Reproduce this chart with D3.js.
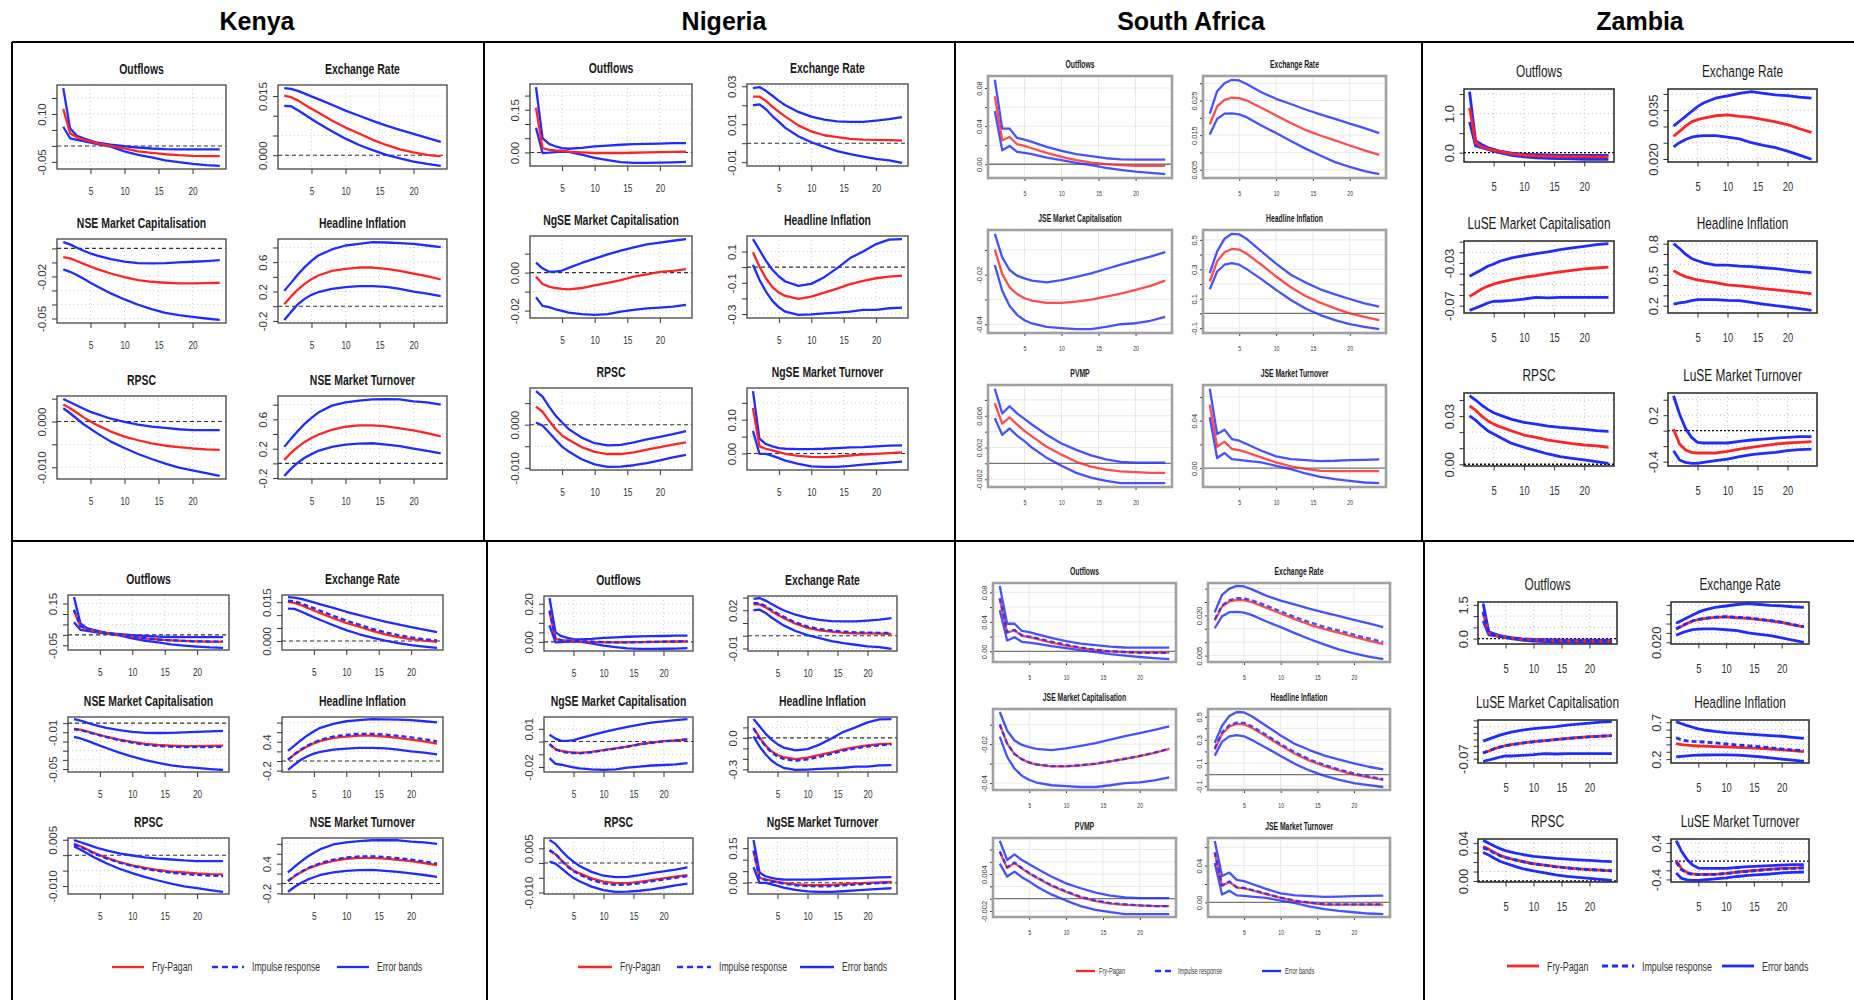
<html>
<head>
  <meta charset="utf-8">
  <title>Impulse responses by country</title>
  <script src="https://d3js.org/d3.v7.min.js"></script>
  <style>
    body { margin: 0; background: #fff; }
    text { font-family: 'Liberation Sans', Arial, sans-serif; }
  </style>
</head>
<body>
  <svg id="irfChart" width="1854" height="1000"></svg>
  <script>
    // ---- data ----
    const H = [1, 2, 3, 4, 5, 6, 8, 10, 12, 14, 16, 18, 20, 22, 24];
    const xTickVals = [5, 10, 15, 20];
    const countries = ["Kenya", "Nigeria", "South Africa", "Zambia"];
    const legendLabels = ["Fry-Pagan", "Impulse response", "Error bands"];

    const kenyaTitles = ["Outflows", "Exchange Rate", "NSE Market Capitalisation", "Headline Inflation", "RPSC", "NSE Market Turnover"];
    const nigeriaTitles = ["Outflows", "Exchange Rate", "NgSE Market Capitalisation", "Headline Inflation", "RPSC", "NgSE Market Turnover"];
    const saTitles = ["Outflows", "Exchange Rate", "JSE Market Capitalisation", "Headline Inflation", "PVMP", "JSE Market Turnover"];
    const zambiaTitles = ["Outflows", "Exchange Rate", "LuSE Market Capitalisation", "Headline Inflation", "RPSC", "LuSE Market Turnover"];

    // y tick labels that are printed (upper row of panels / lower row of panels)
    const kenyaLabelsTop = [[0.10, -0.05], [0.015, 0.000], [-0.02, -0.05], [0.6, 0.2, -0.2], [0.000, -0.010], [0.6, 0.2, -0.2]];
    const kenyaLabelsLow = [[0.15, -0.05], [0.015, 0.000], [-0.01, -0.05], [0.4, -0.2], [0.005, -0.010], [0.4, -0.2]];
    const nigeriaLabelsTop = [[0.15, 0.00], [0.03, 0.01, -0.01], [0.00, -0.02], [0.1, -0.1, -0.3], [0.000, -0.010], [0.10, 0.00]];
    const nigeriaLabelsLow = [[0.20, 0.00], [0.02, -0.01], [0.01, -0.02], [0.0, -0.3], [0.005, -0.010], [0.15, 0.00]];
    const saLabelsTop = [[0.08, 0.04, 0.00], [0.025, 0.015, 0.005], [-0.02, -0.04], [0.5, 0.3, 0.1, -0.1], [0.006, 0.002, -0.002], [0.04, 0.00]];
    const saLabelsLow = [[0.08, 0.04, 0.00], [0.020, 0.005], [-0.02, -0.04], [0.5, 0.3, 0.1, -0.1], [0.004, -0.002], [0.04, 0.00]];
    const zambiaLabelsTop = [[1.0, 0.0], [0.035, 0.020], [-0.03, -0.07], [0.8, 0.5, 0.2], [0.03, 0.00], [0.2, -0.4]];
    const zambiaLabelsLow = [[1.5, 0.0], [0.020], [-0.07], [0.7, 0.2], [0.04, 0.00], [0.4, -0.4]];

    // upper error band, response (red), lower error band, impulse response (dashed, lower row)
    const kenyaUpper = [
      [0.181,0.055,0.032,0.024,0.017,0.010,0.004,-0.001,-0.005,-0.008,-0.010,-0.011,-0.011,-0.011,-0.011],
      [0.0170,0.0168,0.0163,0.0156,0.0149,0.0142,0.0128,0.0113,0.0100,0.0087,0.0075,0.0064,0.0054,0.0044,0.0034],
      [0.0045,0.0029,0.0005,-0.0017,-0.0036,-0.0052,-0.0076,-0.0095,-0.0105,-0.0107,-0.0105,-0.0100,-0.0095,-0.0090,-0.0083],
      [0.209,0.318,0.432,0.532,0.618,0.691,0.773,0.827,0.850,0.873,0.868,0.859,0.850,0.827,0.805],
      [0.0049,0.0042,0.0035,0.0028,0.0021,0.0016,0.0006,-0.0001,-0.0007,-0.0011,-0.0014,-0.0017,-0.0019,-0.0019,-0.0019],
      [0.225,0.337,0.440,0.539,0.620,0.692,0.787,0.831,0.854,0.872,0.876,0.872,0.845,0.831,0.800]
    ];
    const kenyaMid = [
      [0.116,0.040,0.027,0.020,0.014,0.008,0.000,-0.008,-0.017,-0.022,-0.026,-0.029,-0.031,-0.032,-0.032],
      [0.0151,0.0147,0.0139,0.0128,0.0118,0.0108,0.0088,0.0070,0.0055,0.0039,0.0026,0.0015,0.0007,0.0001,-0.0003],
      [-0.0062,-0.0071,-0.0090,-0.0110,-0.0129,-0.0148,-0.0179,-0.0205,-0.0226,-0.0238,-0.0245,-0.0250,-0.0250,-0.0248,-0.0245],
      [0.027,0.132,0.227,0.305,0.368,0.418,0.482,0.509,0.527,0.527,0.509,0.482,0.445,0.409,0.364],
      [0.0037,0.0029,0.0019,0.0009,0.0000,-0.0008,-0.0022,-0.0033,-0.0041,-0.0048,-0.0053,-0.0056,-0.0059,-0.0061,-0.0062],
      [0.045,0.144,0.225,0.292,0.346,0.391,0.458,0.499,0.517,0.517,0.503,0.476,0.449,0.413,0.369]
    ];
    const kenyaLower = [
      [0.060,0.024,0.019,0.015,0.010,0.006,-0.002,-0.017,-0.028,-0.036,-0.045,-0.051,-0.056,-0.060,-0.0625],
      [0.0125,0.0124,0.0114,0.0103,0.0092,0.0081,0.0061,0.0042,0.0026,0.0013,0.0001,-0.0008,-0.0016,-0.0022,-0.0027],
      [-0.0150,-0.0167,-0.0190,-0.0217,-0.0245,-0.0271,-0.0321,-0.0364,-0.0402,-0.0433,-0.0460,-0.0476,-0.0488,-0.0500,-0.0510],
      [-0.186,-0.077,0.027,0.100,0.155,0.191,0.236,0.259,0.273,0.273,0.264,0.236,0.200,0.173,0.136],
      [0.0029,0.0018,0.0006,-0.0006,-0.0016,-0.0026,-0.0044,-0.0058,-0.0071,-0.0082,-0.0092,-0.0101,-0.0107,-0.0113,-0.0119],
      [-0.171,-0.072,0.009,0.076,0.126,0.171,0.225,0.256,0.270,0.274,0.256,0.234,0.202,0.171,0.135]
    ];
    const kenyaIR = [
      [0.120,0.042,0.028,0.021,0.015,0.009,0.001,-0.007,-0.016,-0.022,-0.026,-0.029,-0.031,-0.032,-0.032],
      [0.0156,0.0153,0.0146,0.0136,0.0127,0.0117,0.0097,0.0079,0.0063,0.0047,0.0034,0.0023,0.0014,0.0007,0.0002],
      [-0.0068,-0.0076,-0.0094,-0.0113,-0.0132,-0.0152,-0.0185,-0.0213,-0.0235,-0.0248,-0.0256,-0.0261,-0.0262,-0.0260,-0.0257],
      [0.030,0.140,0.240,0.320,0.385,0.440,0.510,0.545,0.565,0.565,0.550,0.525,0.490,0.455,0.410],
      [0.0035,0.0027,0.0017,0.0007,-0.0002,-0.0010,-0.0024,-0.0035,-0.0044,-0.0051,-0.0057,-0.0061,-0.0064,-0.0066,-0.0068],
      [0.050,0.150,0.235,0.305,0.360,0.410,0.480,0.525,0.545,0.548,0.535,0.510,0.480,0.445,0.400]
    ];

    const nigeriaUpper = [
      [0.230,0.050,0.030,0.021,0.015,0.013,0.016,0.021,0.024,0.027,0.029,0.030,0.031,0.033,0.033],
      [0.0290,0.0296,0.0276,0.0250,0.0223,0.0200,0.0165,0.0140,0.0124,0.0115,0.0112,0.0112,0.0119,0.0127,0.0138],
      [0.0053,0.0023,0.0005,0.0005,0.0011,0.0025,0.0051,0.0074,0.0096,0.0116,0.0133,0.0149,0.0158,0.0168,0.0177],
      [0.180,0.111,0.041,-0.017,-0.060,-0.092,-0.120,-0.107,-0.064,-0.006,0.058,0.100,0.148,0.176,0.180],
      [0.0078,0.0065,0.0042,0.0021,0.0005,-0.0010,-0.0030,-0.0043,-0.0048,-0.0047,-0.0041,-0.0034,-0.0028,-0.0022,-0.0015],
      [0.185,0.044,0.028,0.021,0.016,0.014,0.013,0.013,0.014,0.016,0.018,0.019,0.021,0.023,0.024]
    ];
    const nigeriaMid = [
      [0.158,0.015,0.009,0.007,0.006,0.003,0.000,-0.002,-0.002,-0.002,-0.001,0.000,0.001,0.002,0.003],
      [0.0246,0.0246,0.0223,0.0193,0.0165,0.0140,0.0094,0.0062,0.0042,0.0032,0.0023,0.0019,0.0018,0.0016,0.0014],
      [-0.0021,-0.0060,-0.0074,-0.0081,-0.0086,-0.0088,-0.0081,-0.0067,-0.0054,-0.0039,-0.0021,-0.0009,0.0004,0.0009,0.0018],
      [0.096,0.004,-0.071,-0.128,-0.163,-0.184,-0.203,-0.188,-0.163,-0.137,-0.109,-0.088,-0.071,-0.060,-0.054],
      [0.0042,0.0030,0.0009,-0.0010,-0.0025,-0.0035,-0.0052,-0.0063,-0.0068,-0.0068,-0.0064,-0.0058,-0.0052,-0.0046,-0.0041],
      [0.135,0.021,0.014,0.009,0.004,-0.001,-0.007,-0.010,-0.011,-0.009,-0.006,-0.003,-0.001,0.001,0.003]
    ];
    const nigeriaLower = [
      [0.087,-0.002,-0.001,0.001,0.003,0.002,-0.008,-0.019,-0.027,-0.034,-0.037,-0.037,-0.036,-0.035,-0.033],
      [0.0200,0.0205,0.0179,0.0143,0.0112,0.0081,0.0037,0.0005,-0.0019,-0.0042,-0.0058,-0.0071,-0.0083,-0.0090,-0.0104],
      [-0.0130,-0.0175,-0.0182,-0.0193,-0.0202,-0.0211,-0.0219,-0.0223,-0.0219,-0.0205,-0.0196,-0.0188,-0.0184,-0.0179,-0.0170],
      [0.015,-0.081,-0.156,-0.216,-0.257,-0.285,-0.306,-0.302,-0.296,-0.291,-0.285,-0.274,-0.274,-0.263,-0.259],
      [0.0005,-0.0002,-0.0018,-0.0035,-0.0051,-0.0062,-0.0080,-0.0092,-0.0098,-0.0097,-0.0094,-0.0089,-0.0083,-0.0076,-0.0070],
      [0.067,-0.001,-0.001,-0.007,-0.014,-0.021,-0.031,-0.038,-0.040,-0.040,-0.037,-0.033,-0.030,-0.027,-0.024]
    ];
    const nigeriaIR = [
      [0.165,0.016,0.009,0.007,0.006,0.004,0.001,-0.001,-0.002,-0.002,-0.001,0.000,0.001,0.002,0.004],
      [0.0255,0.0255,0.0233,0.0203,0.0175,0.0150,0.0104,0.0072,0.0052,0.0041,0.0032,0.0027,0.0025,0.0023,0.0022],
      [-0.0020,-0.0062,-0.0078,-0.0086,-0.0091,-0.0092,-0.0084,-0.0069,-0.0055,-0.0039,-0.0022,-0.0010,0.0002,0.0008,0.0017],
      [0.090,-0.005,-0.080,-0.140,-0.178,-0.200,-0.218,-0.205,-0.180,-0.152,-0.122,-0.100,-0.082,-0.070,-0.062],
      [0.0044,0.0031,0.0008,-0.0012,-0.0028,-0.0039,-0.0057,-0.0069,-0.0074,-0.0073,-0.0069,-0.0062,-0.0056,-0.0050,-0.0044],
      [0.140,0.020,0.012,0.006,0.001,-0.004,-0.011,-0.015,-0.016,-0.015,-0.012,-0.008,-0.005,-0.002,0.001]
    ];

    const saUpper = [
      [0.0887,0.0374,0.0374,0.0276,0.0259,0.0234,0.0182,0.0140,0.0105,0.0084,0.0063,0.0052,0.0049,0.0049,0.0049],
      [0.0212,0.0277,0.0300,0.0310,0.0308,0.0298,0.0274,0.0255,0.0240,0.0224,0.0210,0.0197,0.0183,0.0170,0.0156],
      [-0.0035,-0.0130,-0.0181,-0.0204,-0.0215,-0.0224,-0.0231,-0.0222,-0.0209,-0.0195,-0.0177,-0.0159,-0.0143,-0.0127,-0.0109],
      [0.274,0.422,0.507,0.541,0.537,0.507,0.422,0.338,0.263,0.210,0.164,0.130,0.098,0.068,0.046],
      [0.0094,0.0063,0.0072,0.0063,0.0056,0.0049,0.0036,0.0025,0.0017,0.0010,0.0005,0.0002,0.0001,0.0001,0.0001],
      [0.0668,0.0287,0.0324,0.0245,0.0231,0.0203,0.0146,0.0099,0.0076,0.0068,0.0059,0.0062,0.0068,0.0070,0.0073]
    ];
    const saMid = [
      [0.0713,0.0252,0.0286,0.0210,0.0192,0.0168,0.0119,0.0077,0.0042,0.0017,0.0000,-0.0010,-0.0017,-0.0017,-0.0017],
      [0.0181,0.0233,0.0252,0.0258,0.0257,0.0250,0.0229,0.0207,0.0185,0.0165,0.0149,0.0135,0.0120,0.0106,0.0093],
      [-0.0099,-0.0197,-0.0251,-0.0278,-0.0295,-0.0305,-0.0314,-0.0314,-0.0309,-0.0301,-0.0289,-0.0276,-0.0261,-0.0245,-0.0224],
      [0.217,0.354,0.416,0.438,0.434,0.406,0.331,0.251,0.178,0.119,0.073,0.034,0.000,-0.023,-0.046],
      [0.0076,0.0050,0.0058,0.0049,0.0041,0.0034,0.0021,0.0011,0.0002,-0.0004,-0.0008,-0.0010,-0.0011,-0.0012,-0.0012],
      [0.0535,0.0180,0.0223,0.0161,0.0152,0.0132,0.0090,0.0048,0.0014,-0.0006,-0.0023,-0.0025,-0.0025,-0.0025,-0.0025]
    ];
    const saLower = [
      [0.0559,0.0147,0.0192,0.0129,0.0119,0.0105,0.0070,0.0042,0.0014,-0.0010,-0.0038,-0.0059,-0.0077,-0.0091,-0.0105],
      [0.0152,0.0197,0.0212,0.0213,0.0210,0.0202,0.0178,0.0156,0.0133,0.0111,0.0091,0.0072,0.0058,0.0046,0.0037],
      [-0.0161,-0.0265,-0.0326,-0.0362,-0.0384,-0.0397,-0.0411,-0.0416,-0.0420,-0.0420,-0.0411,-0.0400,-0.0396,-0.0386,-0.0370],
      [0.164,0.285,0.331,0.342,0.331,0.301,0.233,0.160,0.091,0.034,-0.011,-0.046,-0.073,-0.091,-0.107],
      [0.0057,0.0036,0.0044,0.0035,0.0028,0.0020,0.0007,-0.0003,-0.0012,-0.0018,-0.0022,-0.0025,-0.0025,-0.0025,-0.0025],
      [0.0428,0.0085,0.0127,0.0076,0.0070,0.0062,0.0048,0.0020,-0.0008,-0.0045,-0.0073,-0.0093,-0.0107,-0.0121,-0.0127]
    ];
    const saIR = [
      [0.0720,0.0260,0.0290,0.0220,0.0200,0.0180,0.0130,0.0090,0.0050,0.0020,0.0000,-0.0010,-0.0020,-0.0020,-0.0020],
      [0.0185,0.0237,0.0257,0.0264,0.0264,0.0257,0.0237,0.0215,0.0193,0.0174,0.0157,0.0143,0.0128,0.0114,0.0101],
      [-0.0099,-0.0197,-0.0250,-0.0277,-0.0294,-0.0304,-0.0313,-0.0313,-0.0308,-0.0300,-0.0288,-0.0275,-0.0260,-0.0244,-0.0223],
      [0.225,0.365,0.428,0.450,0.447,0.420,0.345,0.263,0.190,0.130,0.083,0.044,0.010,-0.015,-0.040],
      [0.0077,0.0051,0.0059,0.0050,0.0042,0.0035,0.0022,0.0012,0.0003,-0.0003,-0.0007,-0.0009,-0.0011,-0.0012,-0.0012],
      [0.0545,0.0185,0.0228,0.0166,0.0157,0.0137,0.0095,0.0052,0.0018,-0.0002,-0.0020,-0.0022,-0.0022,-0.0022,-0.0022]
    ];

    const zambiaUpper = [
      [1.56,0.30,0.21,0.13,0.085,0.04,-0.01,-0.04,-0.05,-0.06,-0.07,-0.07,-0.07,-0.07,-0.07],
      [0.0301,0.0316,0.0331,0.0346,0.0361,0.0372,0.0387,0.0394,0.0402,0.0407,0.0402,0.0397,0.0395,0.0390,0.0387],
      [-0.0425,-0.0394,-0.0363,-0.0331,-0.0309,-0.0284,-0.0253,-0.0231,-0.0213,-0.0197,-0.0175,-0.0159,-0.0144,-0.0128,-0.0119],
      [0.800,0.753,0.698,0.657,0.635,0.615,0.593,0.593,0.583,0.577,0.567,0.558,0.545,0.529,0.519],
      [0.0427,0.0400,0.0369,0.0342,0.0321,0.0306,0.0280,0.0261,0.0250,0.0238,0.0230,0.0224,0.0217,0.0209,0.0205],
      [0.452,0.215,0.030,-0.086,-0.151,-0.159,-0.159,-0.159,-0.138,-0.120,-0.108,-0.095,-0.086,-0.077,-0.077]
    ];
    const zambiaMid = [
      [1.15,0.26,0.15,0.10,0.06,0.03,-0.03,-0.06,-0.08,-0.09,-0.10,-0.10,-0.10,-0.11,-0.11],
      [0.0270,0.0285,0.0301,0.0314,0.0321,0.0326,0.0333,0.0336,0.0331,0.0328,0.0321,0.0314,0.0306,0.0293,0.0282],
      [-0.0613,-0.0581,-0.0544,-0.0519,-0.0497,-0.0481,-0.0456,-0.0434,-0.0419,-0.0400,-0.0384,-0.0369,-0.0356,-0.0347,-0.0338],
      [0.539,0.507,0.481,0.465,0.449,0.440,0.424,0.401,0.392,0.379,0.366,0.353,0.341,0.328,0.315],
      [0.0364,0.0337,0.0300,0.0271,0.0250,0.0234,0.0207,0.0182,0.0168,0.0151,0.0139,0.0128,0.0120,0.0114,0.0106],
      [0.022,-0.172,-0.249,-0.280,-0.288,-0.288,-0.288,-0.267,-0.237,-0.215,-0.194,-0.172,-0.159,-0.151,-0.142]
    ];
    const zambiaLower = [
      [0.79,0.17,0.13,0.085,0.04,0.00,-0.07,-0.11,-0.13,-0.145,-0.15,-0.16,-0.17,-0.17,-0.17],
      [0.0237,0.0250,0.0260,0.0267,0.0270,0.0272,0.0272,0.0267,0.0262,0.0250,0.0242,0.0235,0.0224,0.0212,0.0199],
      [-0.0744,-0.0722,-0.0700,-0.0675,-0.0659,-0.0659,-0.0650,-0.0638,-0.0622,-0.0628,-0.0622,-0.0622,-0.0622,-0.0622,-0.0622],
      [0.216,0.226,0.235,0.248,0.258,0.258,0.258,0.251,0.248,0.232,0.216,0.200,0.187,0.171,0.155],
      [0.0302,0.0275,0.0240,0.0209,0.0188,0.0168,0.0130,0.0106,0.0085,0.0064,0.0048,0.0037,0.0027,0.0017,0.0006],
      [-0.258,-0.378,-0.409,-0.421,-0.421,-0.409,-0.387,-0.366,-0.335,-0.310,-0.292,-0.280,-0.258,-0.245,-0.237]
    ];
    const zambiaIR = [
      [1.20,0.27,0.16,0.10,0.06,0.03,-0.03,-0.06,-0.08,-0.09,-0.10,-0.10,-0.10,-0.11,-0.11],
      [0.0272,0.0287,0.0302,0.0315,0.0322,0.0327,0.0334,0.0337,0.0333,0.0330,0.0323,0.0316,0.0307,0.0295,0.0284],
      [-0.0610,-0.0580,-0.0545,-0.0520,-0.0498,-0.0482,-0.0457,-0.0436,-0.0420,-0.0402,-0.0386,-0.0370,-0.0358,-0.0350,-0.0340],
      [0.490,0.460,0.447,0.440,0.437,0.432,0.420,0.405,0.393,0.380,0.368,0.355,0.338,0.325,0.317],
      [0.0350,0.0330,0.0295,0.0268,0.0248,0.0232,0.0205,0.0180,0.0167,0.0150,0.0138,0.0128,0.0120,0.0114,0.0106],
      [-0.020,-0.190,-0.260,-0.290,-0.295,-0.295,-0.290,-0.270,-0.240,-0.220,-0.198,-0.178,-0.165,-0.155,-0.145]
    ];
    // Zambia headline inflation, lower row: its own bands and Fry-Pagan response
    const zambiaInflUpperLow = [0.709,0.680,0.655,0.632,0.610,0.595,0.575,0.560,0.550,0.540,0.530,0.520,0.510,0.495,0.480];
    const zambiaInflFPLow = [0.410,0.397,0.390,0.384,0.378,0.375,0.370,0.365,0.360,0.353,0.345,0.337,0.326,0.315,0.303];
    const zambiaInflLowerLow = [0.231,0.238,0.245,0.250,0.254,0.256,0.258,0.258,0.255,0.245,0.232,0.218,0.200,0.185,0.169];

    const titles = [kenyaTitles, nigeriaTitles, saTitles, zambiaTitles];
    const labelsTop = [kenyaLabelsTop, nigeriaLabelsTop, saLabelsTop, zambiaLabelsTop];
    const labelsLow = [kenyaLabelsLow, nigeriaLabelsLow, saLabelsLow, zambiaLabelsLow];
    const upper = [kenyaUpper, nigeriaUpper, saUpper, zambiaUpper];
    const mid = [kenyaMid, nigeriaMid, saMid, zambiaMid];
    const lower = [kenyaLower, nigeriaLower, saLower, zambiaLower];
    const impulse = [kenyaIR, nigeriaIR, saIR, zambiaIR];
    const lowRowOverrides = { "3-3": { upper: zambiaInflUpperLow, mid: zambiaInflFPLow, lower: zambiaInflLowerLow } };

    // ---- layout ----
    const RED = "#ff2424", BLUE = "#1f2cff";
    const countryX = [257, 724, 1191, 1640];

    const styles = {
      kn: { sx: 0.72, titleSize: 14.5, titleWeight: "bold", titleOff: 16, xSize: 11.5, ySize: 11.5, xLabOff: 22, yLabOff: 15,
            tickLen: 5, box: "#444", boxW: 1.3, grid: "#cfcfcf", gridDash: "1,3", zero: "#333", zeroDash: "4,3", zeroW: 1.1,
            lw: 2.3, lineOpacity: 1 },
      sa: { sx: 0.65, titleSize: 10.5, titleWeight: "bold", titleOff: 12, xSize: 8, ySize: 7.5, xLabOff: 15, yLabOff: 9,
            tickLen: 3, box: "#a0a0a0", boxW: 2.6, grid: "#e8e8e8", gridDash: null, zero: "#777", zeroDash: null, zeroW: 1.3,
            lw: 2.3, lineOpacity: 0.82 },
      zm: { sx: 0.72, titleSize: 16.5, titleWeight: "normal", titleOff: 18, xSize: 13, ySize: 13, xLabOff: 24, yLabOff: 15,
            tickLen: 4.5, box: "#333", boxW: 1.6, grid: "#c0c0c0", gridDash: "1,3", zero: "#000", zeroDash: "2,2", zeroW: 1.3,
            lw: 2.8, lineOpacity: 1 }
    };

    const blocks = [
      { c: 0, low: false, st: "kn", cols: [[57, 226], [278, 447]], rows: [[85, 169], [239, 323], [396, 479]] },
      { c: 0, low: true, st: "kn", cols: [[68, 229], [282, 443]], rows: [[595, 650], [717, 772], [838, 894]],
        leg: { y: 967, xs: [112, 212, 337], len: 32, gap: 8, size: 12, sx: 0.72 } },
      { c: 1, low: false, st: "kn", cols: [[530, 692], [747, 908]], rows: [[84, 166], [236, 318], [388, 470]] },
      { c: 1, low: true, st: "kn", cols: [[544, 693], [748, 897]], rows: [[596, 651], [717, 772], [838, 894]],
        leg: { y: 967, xs: [578, 677, 800], len: 34, gap: 8, size: 12, sx: 0.72 } },
      { c: 2, low: false, st: "sa", cols: [[988, 1172], [1203, 1386]], rows: [[76, 178], [230, 333], [385, 487]] },
      { c: 2, low: true, st: "sa", cols: [[993, 1176], [1208, 1390]], rows: [[583, 662], [709, 790], [838, 917]],
        leg: { y: 971, xs: [1076, 1155, 1262], len: 19, gap: 4, size: 8.6, sx: 0.65 } },
      { c: 3, low: false, st: "zm", cols: [[1464, 1614], [1668, 1817]], rows: [[89, 162], [241, 313], [393, 466]] },
      { c: 3, low: true, st: "zm", cols: [[1478, 1617], [1671, 1809]], rows: [[602, 644], [720, 763], [839, 882]],
        leg: { y: 966, xs: [1507, 1602, 1722], len: 32, gap: 8, size: 12.5, sx: 0.71 } }
    ];

    const svg = d3.select("svg#irfChart");
    svg.append("rect").attr("width", 1854).attr("height", 1000).attr("fill", "#fff");

    function squeezedText(g, x, y, txt, size, sx, weight, anchor) {
      return g.append("text")
        .attr("transform", "translate(" + x + "," + y + ") scale(" + sx + ",1)")
        .attr("text-anchor", anchor || "middle")
        .style("font-size", size + "px")
        .style("font-weight", weight || "normal")
        .attr("fill", "#1a1a1a")
        .text(txt);
    }

    // frame
    const frame = svg.append("g").attr("stroke", "#000").attr("stroke-width", 2);
    [[12, 42, 1854, 42], [12, 541, 1854, 541], [12, 42, 12, 1000], [484, 42, 484, 541], [487, 541, 487, 1000],
     [955, 42, 955, 1000], [1422, 42, 1422, 541], [1424, 541, 1424, 1000]].forEach(l => {
      frame.append("line").attr("x1", l[0]).attr("y1", l[1]).attr("x2", l[2]).attr("y2", l[3]);
    });

    countries.forEach((name, i) => {
      svg.append("text")
        .attr("x", countryX[i]).attr("y", 30)
        .attr("text-anchor", "middle")
        .style("font-size", "25px").style("font-weight", "bold")
        .text(name);
    });

    const padX = (H[H.length - 1] - H[0]) * 0.04;

    function drawPanel(g, box, st, title, series, shown) {
      const xs = d3.scaleLinear().domain([H[0] - padX, H[H.length - 1] + padX]).range([box.x0, box.x1]);
      const vals = series.flatMap(s => s.values);
      const [lo, hi] = d3.extent(vals);
      const padY = (hi - lo) * 0.04;
      const ys = d3.scaleLinear().domain([lo - padY, hi + padY]).range([box.y1, box.y0]);
      const yTicks = ys.ticks(5);
      const prec = d3.precisionFixed(d3.tickStep(lo - padY, hi + padY, 5));
      const fmt = d => shown.some(v => Math.abs(v - d) < 1e-9) ? (Math.abs(d) < 1e-12 ? 0 : d).toFixed(prec) : "";

      // grid
      const grid = g.append("g").attr("stroke", st.grid).attr("stroke-width", 1)
        .attr("stroke-dasharray", st.gridDash);
      xTickVals.forEach(v => grid.append("line").attr("x1", xs(v)).attr("x2", xs(v)).attr("y1", box.y0).attr("y2", box.y1));
      yTicks.forEach(v => grid.append("line").attr("x1", box.x0).attr("x2", box.x1).attr("y1", ys(v)).attr("y2", ys(v)));

      // zero reference
      const dom = ys.domain();
      if (dom[0] < 0 && dom[1] > 0) {
        g.append("line").attr("x1", box.x0).attr("x2", box.x1).attr("y1", ys(0)).attr("y2", ys(0))
          .attr("stroke", st.zero).attr("stroke-width", st.zeroW).attr("stroke-dasharray", st.zeroDash);
      }

      // x axis
      const gx = g.append("g").attr("transform", "translate(0," + box.y1 + ")")
        .call(d3.axisBottom(xs).tickValues(xTickVals).tickSize(st.tickLen));
      gx.select(".domain").remove();
      gx.selectAll(".tick line").attr("stroke", "#333");
      gx.selectAll(".tick text")
        .attr("y", st.xLabOff).attr("dy", "0.36em")
        .attr("transform", "scale(" + st.sx + ",1)")
        .style("font-size", st.xSize + "px").style("font-family", "'Liberation Sans', Arial, sans-serif")
        .attr("fill", "#333");

      // y axis, labels parallel to the axis like base R
      const gy = g.append("g").attr("transform", "translate(" + box.x0 + ",0)")
        .call(d3.axisLeft(ys).tickValues(yTicks).tickSize(st.tickLen).tickFormat(fmt));
      gy.select(".domain").remove();
      gy.selectAll(".tick line").attr("stroke", "#333");
      gy.selectAll(".tick text")
        .attr("x", null).attr("dy", null).attr("text-anchor", "middle")
        .attr("transform", "translate(" + (-st.yLabOff + 0.36 * st.ySize) + ",0) rotate(-90)")
        .style("font-size", st.ySize + "px").style("font-family", "'Liberation Sans', Arial, sans-serif")
        .attr("fill", "#333");

      // curves
      const line = d3.line().x((d, i) => xs(H[i])).y(d => ys(d));
      series.forEach(s => {
        g.append("path").datum(s.values)
          .attr("d", line)
          .attr("fill", "none")
          .attr("stroke", s.color)
          .attr("stroke-opacity", st.lineOpacity)
          .attr("stroke-width", st.lw)
          .attr("stroke-dasharray", s.dash)
          .attr("stroke-linejoin", "round");
      });

      // box
      g.append("rect").attr("x", box.x0).attr("y", box.y0)
        .attr("width", box.x1 - box.x0).attr("height", box.y1 - box.y0)
        .attr("fill", "none").attr("stroke", st.box).attr("stroke-width", st.boxW);

      squeezedText(g, (box.x0 + box.x1) / 2, box.y0 - st.titleOff, title, st.titleSize, st.sx, st.titleWeight)
        .attr("dy", "0.36em");
    }

    blocks.forEach(b => {
      const st = styles[b.st];
      const g = svg.append("g").attr("class", "block");
      const labs = b.low ? labelsLow[b.c] : labelsTop[b.c];
      for (let p = 0; p < 6; p++) {
        const col = b.cols[p % 2], row = b.rows[Math.floor(p / 2)];
        const box = { x0: col[0], x1: col[1], y0: row[0], y1: row[1] };
        const ov = b.low ? lowRowOverrides[b.c + "-" + p] : null;
        const series = [
          { values: ov ? ov.lower : lower[b.c][p], color: BLUE, dash: null },
          { values: ov ? ov.upper : upper[b.c][p], color: BLUE, dash: null },
          { values: ov ? ov.mid : mid[b.c][p], color: RED, dash: null }
        ];
        if (b.low) series.push({ values: impulse[b.c][p], color: BLUE, dash: "5,3" });
        drawPanel(g.append("g"), box, st, titles[b.c][p], series, labs[p]);
      }
      if (b.leg) {
        const L = b.leg;
        const legStyles = [{ color: RED, dash: null }, { color: BLUE, dash: "6,4" }, { color: BLUE, dash: null }];
        legendLabels.forEach((lab, i) => {
          g.append("line")
            .attr("x1", L.xs[i]).attr("x2", L.xs[i] + L.len)
            .attr("y1", L.y).attr("y2", L.y)
            .attr("stroke", legStyles[i].color).attr("stroke-width", st.lw)
            .attr("stroke-dasharray", legStyles[i].dash);
          squeezedText(g, L.xs[i] + L.len + L.gap, L.y, lab, L.size, L.sx, "normal", "start")
            .attr("dy", "0.36em").attr("fill", "#333");
        });
      }
    });
  </script>
</body>
</html>
